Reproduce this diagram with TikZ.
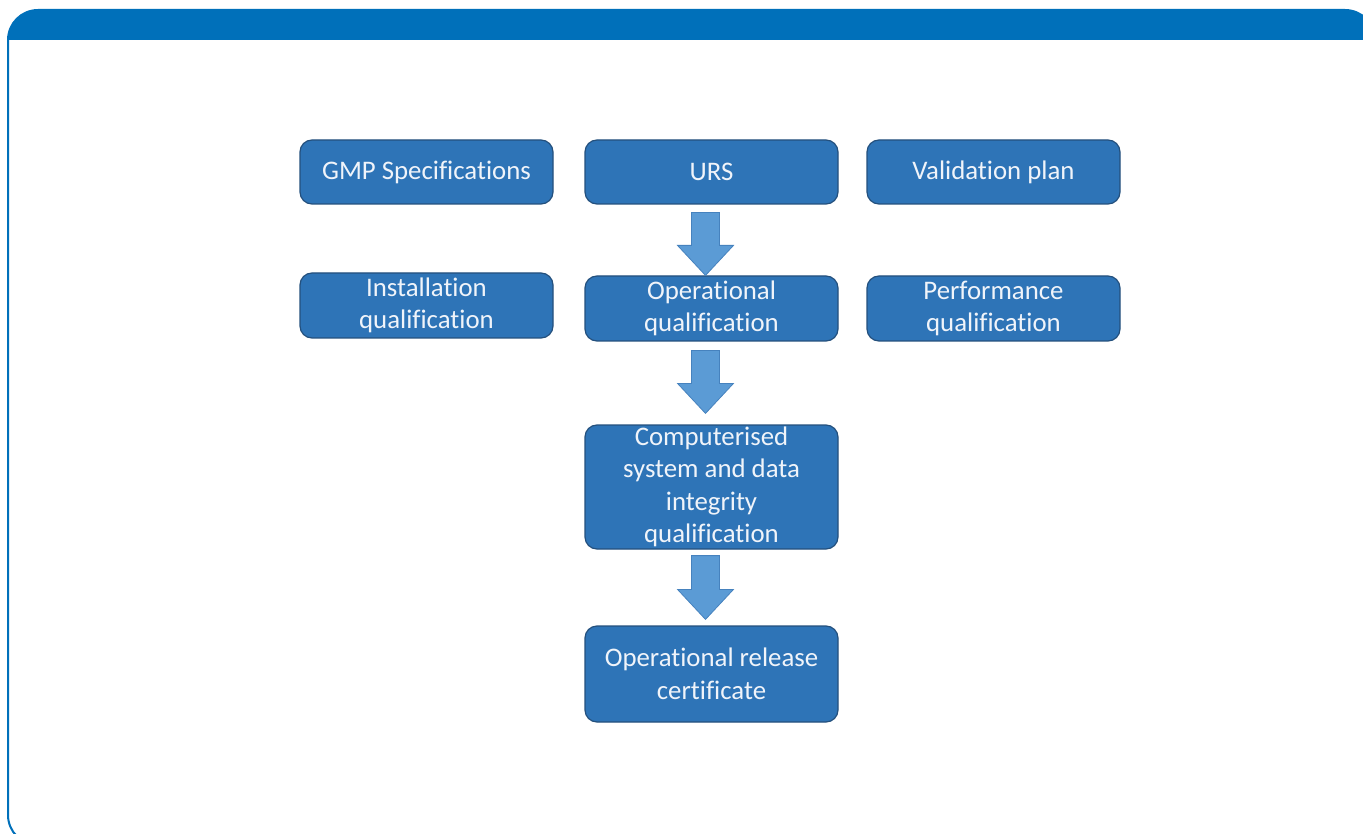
\documentclass[tikz,border=0pt]{standalone}
\usepackage{fontspec}
\setmainfont{Carlito}[Ligatures={NoCommon}]
\usetikzlibrary{calc}
\definecolor{framecol}{RGB}{0,112,186}
\definecolor{boxfill}{RGB}{46,116,183}
\definecolor{boxline}{RGB}{36,80,125}
\definecolor{arrowfill}{RGB}{91,155,213}
\definecolor{arrowline}{RGB}{70,130,190}
\definecolor{txtcol}{RGB}{240,244,250}
\tikzset{
  stepbox/.style={draw=boxline, fill=boxfill, line width=1.2pt, rounded corners=12pt,
    minimum width=253pt, minimum height=64pt, inner sep=0pt, text=txtcol,
    align=center, font=\fontsize{26.8}{32.5}\selectfont},
  fatarrow/.style={fill=arrowfill, draw=arrowline, line width=0.8pt, line join=miter}
}
\newcommand\blockarrow[4]{%
  \path let \p1=($(#1.south)+(-6pt,-#3pt)$), \p2=($(#2.north)+(-6pt,#4pt)$) in
    [fatarrow] (\x1-14pt,\y1) -- (\x1+14pt,\y1) -- (\x1+14pt,\y2+30pt) -- (\x1+28pt,\y2+30pt)
    -- (\x1,\y2) -- (\x1-28pt,\y2+30pt) -- (\x1-14pt,\y2+30pt) -- cycle;}
\begin{document}
\begin{tikzpicture}[x=1pt,y=-1pt]
\useasboundingbox (0,0) rectangle (1363,834);
\fill[white] (0,0) rectangle (1363,834);
% frame
\begin{scope}
  \clip (0,10) rectangle (1363,40);
  \fill[framecol, rounded corners=30pt] (8,10) rectangle (1375,845);
\end{scope}
\draw[framecol, line width=2pt, rounded corners=30pt] (8,10) rectangle (1375,845);
% boxes
\node[stepbox] (gmp) at (426.5,172) {GMP Specifications};
\node[stepbox] (urs) at (711.5,172) {URS};
\node[stepbox] (vp)  at (993.5,172) {Validation plan};
\node[stepbox, minimum height=65pt] (iq) at (426.5,305.5) {Installation\\qualification};
\node[stepbox, minimum height=65pt] (oq) at (711.5,308.5) {Operational\\qualification};
\node[stepbox, minimum height=65pt] (pq) at (993.5,308.5) {Performance\\qualification};
\node[stepbox, minimum height=124pt] (cs) at (711.5,487) {Computerised\\system and data\\integrity\\qualification};
\node[stepbox, minimum height=96pt] (orc) at (711.5,674) {Operational release\\certificate};
% arrows
\blockarrow{urs}{oq}{8}{0}
\blockarrow{oq}{cs}{9}{11}
\blockarrow{cs}{orc}{6}{6}
\end{tikzpicture}
\end{document}
